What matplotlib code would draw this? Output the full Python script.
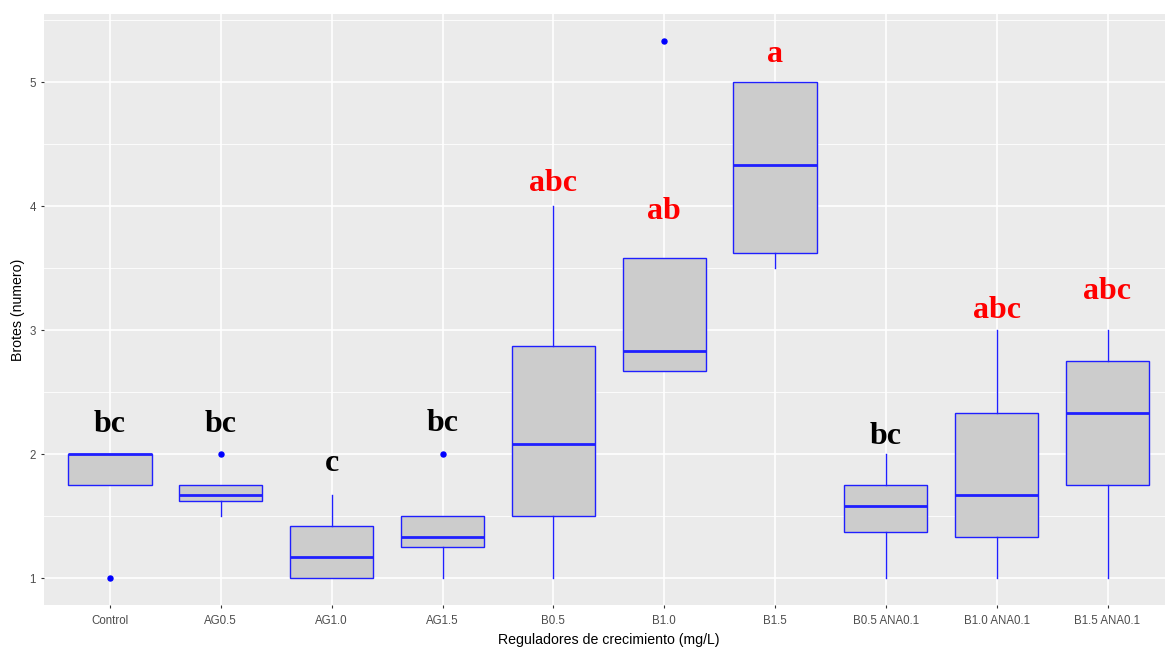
import matplotlib
matplotlib.use("Agg")
import matplotlib.pyplot as plt
from matplotlib.ticker import MultipleLocator, FixedLocator

# ---- data ----
categories = ["Control", "AG0.5", "AG1.0", "AG1.5", "B0.5", "B1.0", "B1.5",
              "B0.5 ANA0.1", "B1.0 ANA0.1", "B1.5 ANA0.1"]
q1 = [1.75, 1.625, 1.0, 1.25, 1.5, 2.667, 3.625, 1.375, 1.333, 1.75]
med = [2.0, 1.667, 1.167, 1.333, 2.083, 2.833, 4.333, 1.583, 1.667, 2.333]
q3 = [2.0, 1.75, 1.417, 1.5, 2.875, 3.583, 5.0, 1.75, 2.333, 2.75]
whis_lo = [1.75, 1.5, 1.0, 1.0, 1.0, 2.667, 3.5, 1.0, 1.0, 1.0]
whis_hi = [2.0, 1.75, 1.667, 1.5, 4.0, 3.583, 5.0, 2.0, 3.0, 3.0]
outliers = [[1.0], [2.0], [], [2.0], [], [5.333], [], [], [], []]
letters = ["bc", "bc", "c", "bc", "abc", "ab", "a", "bc", "abc", "abc"]
letter_y = [2.18, 2.18, 1.86, 2.19, 4.12, 3.90, 5.16, 2.08, 3.10, 3.25]
letter_colors = ["black", "black", "black", "black", "red", "red", "red",
                 "black", "red", "red"]
y_ticks = [1, 2, 3, 4, 5]

# ---- figure ----
W, H = 1165, 652
fig = plt.figure(figsize=(W / 100, H / 100), dpi=100)
left, right, top, bottom = 43.5, 1174, 14, 605
ax = fig.add_axes([left / W, 1 - bottom / H, (right - left) / W, (bottom - top) / H])

ax.set_facecolor("#EBEBEB")
for s in ax.spines.values():
    s.set_visible(False)

positions = list(range(1, len(categories) + 1))
stats = []
for i in range(len(categories)):
    stats.append(dict(med=med[i], q1=q1[i], q3=q3[i], whislo=whis_lo[i],
                      whishi=whis_hi[i], fliers=outliers[i]))

box_col = "#1F1FFF"
ax.bxp(stats, positions=positions, widths=0.75, patch_artist=True,
       showcaps=False,
       boxprops=dict(facecolor="#CCCCCC", edgecolor=box_col, linewidth=1.0),
       medianprops=dict(color=box_col, linewidth=2.0),
       whiskerprops=dict(color=box_col, linewidth=1.0),
       flierprops=dict(marker="o", markerfacecolor="blue", markeredgecolor="blue",
                       markersize=3.6, linestyle="none"),
       zorder=3)

for x, lab, yv, c in zip(positions, letters, letter_y, letter_colors):
    ax.text(x, yv, lab, ha="center", va="baseline", color=c,
            fontsize=23, fontweight="bold", family="Liberation Serif", zorder=4)

ax.set_xlim(0.4, 10.6)
ax.set_ylim(0.783, 5.55)
ax.yaxis.set_major_locator(FixedLocator(y_ticks))
ax.yaxis.set_minor_locator(MultipleLocator(0.5))
ax.set_xticks(positions)
ax.set_xticklabels(categories)

ax.grid(which="major", color="white", linewidth=1.2, zorder=0)
ax.grid(which="minor", axis="y", color="white", linewidth=0.6, zorder=0)
ax.set_axisbelow(True)

ax.tick_params(axis="both", which="major", length=2.5, width=0.8, color="#333333",
               labelcolor="#4D4D4D", labelsize=8.3)
ax.tick_params(axis="x", which="major", pad=5)
ax.tick_params(axis="y", which="major", pad=3)
ax.tick_params(axis="y", which="minor", length=0)
for lab in ax.get_xticklabels() + ax.get_yticklabels():
    lab.set_family("Liberation Sans")

ax.set_xlabel("Reguladores de crecimiento (mg/L)", fontsize=10.2,
              family="Liberation Sans", color="black", labelpad=4)
ax.set_ylabel("Brotes (numero)", fontsize=10.2, family="Liberation Sans",
              color="black", labelpad=3)

fig.savefig("out.png", dpi=100, facecolor="white")
